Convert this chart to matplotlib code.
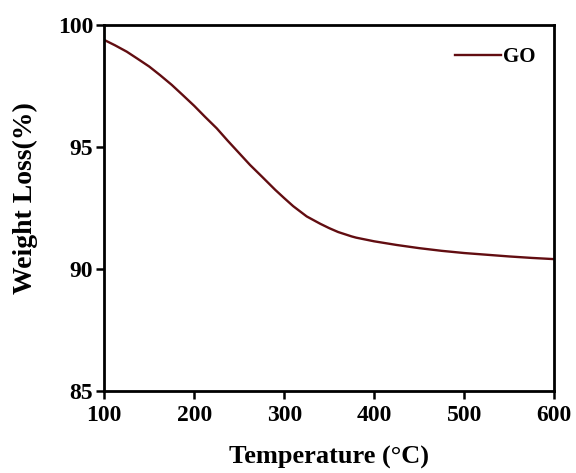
import numpy as np
import matplotlib
matplotlib.use('Agg')
import matplotlib.pyplot as plt

# TGA curve of GO
temp = [100, 112, 125, 137, 150, 162, 175, 187, 200, 212, 225, 237, 250,
        262, 275, 290, 300, 310, 325, 340, 350, 360, 375, 380, 400, 425,
        450, 475, 500, 525, 550, 575, 600]
weight = [99.39, 99.17, 98.91, 98.62, 98.30, 97.95, 97.55, 97.14, 96.69,
          96.24, 95.77, 95.27, 94.75, 94.27, 93.80, 93.25, 92.91, 92.58,
          92.16, 91.86, 91.68, 91.52, 91.34, 91.29, 91.14, 90.99, 90.86,
          90.75, 90.66, 90.59, 90.52, 90.46, 90.41]

x_ticks = [100, 200, 300, 400, 500, 600]
y_ticks = [85, 90, 95, 100]

plt.rcParams['font.family'] = ['Liberation Serif', 'DejaVu Serif']
plt.rcParams['font.weight'] = 'bold'


def main():
    fig = plt.figure(figsize=(5.76, 4.73), dpi=100)
    ax = fig.add_axes([0.181, 0.173, 0.781, 0.774])

    ax.plot(temp, weight, color='#620d11', lw=1.7, label='GO')

    ax.set_xlim(100, 600)
    ax.set_ylim(85, 100)
    ax.set_xticks(x_ticks)
    ax.set_yticks(y_ticks)
    ax.tick_params(axis='both', which='both', direction='out', length=6,
                   width=1.8, labelsize=17, pad=2, top=False, right=False)
    ax.tick_params(axis='x', pad=4)
    for lab in ax.get_xticklabels() + ax.get_yticklabels():
        lab.set_fontweight('bold')
    for sp in ax.spines.values():
        sp.set_linewidth(2.0)

    ax.set_xlabel('Temperature (°C)', fontsize=19, fontweight='bold', labelpad=14)
    ax.set_ylabel('Weight Loss(%)', fontsize=20, fontweight='bold')
    ax.yaxis.set_label_coords(-0.148, 0.527)

    leg = ax.legend(loc='upper right', frameon=False, fontsize=15,
                    handlelength=2.2, handletextpad=0.1,
                    bbox_to_anchor=(1.0, 0.99))
    for t in leg.get_texts():
        t.set_fontweight('bold')

    fig.savefig('out.png', dpi=100)
    plt.close()


if __name__ == "__main__":
    main()
